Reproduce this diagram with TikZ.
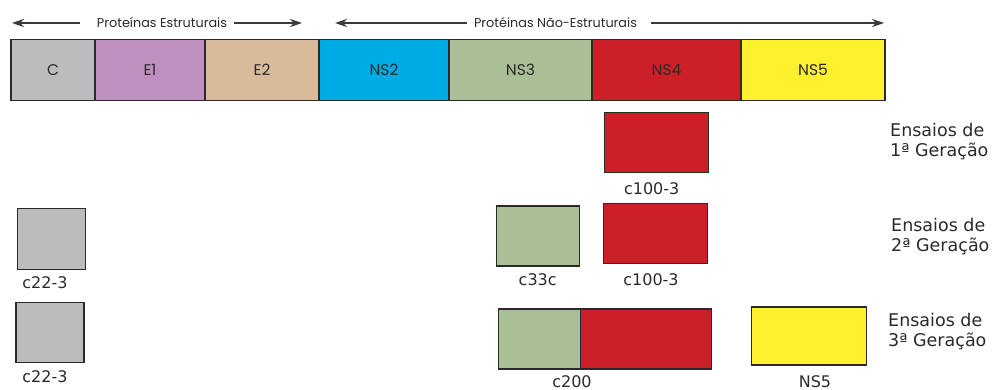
\documentclass[tikz,border=0pt]{standalone}
\usepackage{fontspec}
\setmainfont{DejaVu Sans}
\newfontfamily\geo{Poppins}
\usetikzlibrary{arrows.meta}
\definecolor{cgray}{HTML}{BBBCBE}
\definecolor{ce1}{HTML}{BF8FBF}
\definecolor{ce2}{HTML}{D9BB9B}
\definecolor{cns2}{HTML}{00ACE6}
\definecolor{cns3}{HTML}{ABBF96}
\definecolor{cns4}{HTML}{CD1F28}
\definecolor{cns5}{HTML}{FFF02E}
\definecolor{ink}{HTML}{2A2A2A}
\definecolor{arrowgray}{HTML}{3A3A3A}
\begin{document}
\begin{tikzpicture}[x=1pt,y=-1pt,
  seg/.style={draw=ink,line width=1.1pt,rectangle,inner sep=0pt,
    minimum height=61pt,font=\geo\fontsize{15.5}{17}\selectfont,text=ink},
  assay/.style={draw=ink,line width=1.1pt,rectangle,inner sep=0pt},
  tag/.style={inner sep=0pt,font=\fontsize{16}{18}\selectfont,text=ink},
  gen/.style={inner sep=0pt,align=left,anchor=west,
    font=\fontsize{17.5}{20}\selectfont,text=ink},
  head/.style={inner sep=0pt,font=\geo\fontsize{12.8}{14}\selectfont,text=ink},
  span/.style={draw=arrowgray,line width=1.3pt,-{Stealth[length=12pt,width=8pt]}}]
\useasboundingbox (0,0) rectangle (992,390);

% genome bar
\node[seg,fill=cgray,minimum width=84pt]  (C)   at (53,70)    {C};
\node[seg,fill=ce1,minimum width=110pt]   (E1)  at (150,70)   {E1};
\node[seg,fill=ce2,minimum width=114pt]   (E2)  at (262,70)   {E2};
\node[seg,fill=cns2,minimum width=130pt]  (NS2) at (384,70)   {NS2};
\node[seg,fill=cns3,minimum width=143pt]  (NS3) at (520.5,70) {NS3};
\node[seg,fill=cns4,minimum width=149pt]  (NS4) at (666.5,70) {NS4};
\node[seg,fill=cns5,minimum width=144pt]  (NS5) at (813,70)   {NS5};

% region headings with span arrows
\node[head] (hs) at (162,23) {Proteínas Estruturais};
\node[head] (hn) at (555.5,23) {Protéinas Não-Estruturais};
\coordinate (hsL) at (12,23);
\coordinate (hsR) at (302,23);
\coordinate (hnL) at (335,23);
\coordinate (hnR) at (884,23);
\draw[span] ([xshift=-17pt]hs.west) -- (hsL);
\draw[span] ([xshift=7pt]hs.east) -- (hsR);
\draw[span] ([xshift=-7pt]hn.west) -- (hnL);
\draw[span] ([xshift=14pt]hn.east) -- (hnR);

% first generation
\node[assay,fill=cns4,minimum width=104pt,minimum height=60pt] (a1) at (656.3,142.5) {};
\node[tag] (t1) at (651.7,189) {c100-3};
\node[gen] (g1) at (890,142) {Ensaios de\\1ª Geração};

% second generation
\node[assay,fill=cgray,minimum width=68pt,minimum height=61pt] (b0) at (51.2,238.6) {};
\node[tag] (u0) at (45,283) {c22-3};
\node[assay,fill=cns3,minimum width=83pt,minimum height=60pt] (b1) at (537.7,236) {};
\node[tag] (u1) at (537.7,280) {c33c};
\node[assay,fill=cns4,minimum width=104pt,minimum height=60pt] (b2) at (655.5,233.3) {};
\node[tag] (u2) at (651,280) {c100-3};
\node[gen] (g2) at (891,236.5) {Ensaios de\\2ª Geração};

% third generation
\node[assay,fill=cgray,minimum width=68pt,minimum height=60pt] (d0) at (50,332.5) {};
\node[tag] (v0) at (45,377) {c22-3};
\node[assay,fill=cns3,minimum width=82pt,minimum height=60pt] (d1) at (539.3,339) {};
\node[assay,fill=cns4,minimum width=131pt,minimum height=60pt] (d2) at (645.7,339) {};
\node[tag] (v1) at (572,381.5) {c200};
\node[assay,fill=cns5,minimum width=115pt,minimum height=58pt] (d3) at (808.8,336) {};
\node[tag] (v3) at (815,381.5) {NS5};
\node[gen] (g3) at (888,331.5) {Ensaios de\\3ª Geração};
\end{tikzpicture}
\end{document}
